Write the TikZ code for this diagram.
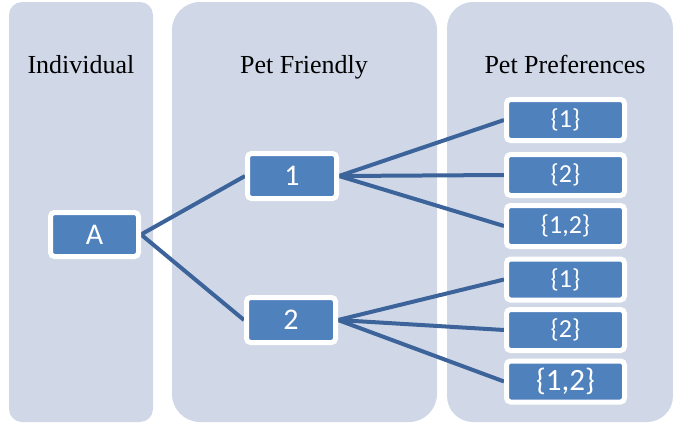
\documentclass[tikz,border=0pt]{standalone}
\usepackage{fontspec}
\setmainfont{Liberation Serif}
\newfontfamily\titlefont{Liberation Serif}
\newfontfamily\boxfont{Carlito}
\pgfdeclarelayer{panels}
\pgfdeclarelayer{lines}
\pgfsetlayers{panels,lines,main}
\definecolor{panelc}{RGB}{208,216,232}
\definecolor{boxc}{RGB}{79,129,189}
\definecolor{linec}{RGB}{60,100,155}
\tikzset{
  panel/.style={fill=panelc, draw=none},
  title/.style={anchor=base, font=\titlefont\fontsize{26}{30}\selectfont, text=black, inner sep=0pt},
  bigbox/.style={fill=boxc, draw=white, line width=5pt, rounded corners=4pt,
    minimum width=89pt, minimum height=45pt, inner sep=0pt, text=white,
    font=\boxfont\fontsize{30}{32}\selectfont},
  setbox/.style={fill=boxc, draw=white, line width=5pt, rounded corners=4pt,
    minimum width=118pt, minimum height=41pt, inner sep=0pt, text=white,
    font=\boxfont\fontsize{26}{28}\selectfont},
  conn/.style={draw=linec, line width=4pt}
}
\begin{document}
\begin{tikzpicture}[x=1pt,y=-1pt]
\useasboundingbox (0,0) rectangle (673,424);
\begin{pgfonlayer}{panels}
  \fill[panel, rounded corners=13pt] (9,2) rectangle (153,422);
  \fill[panel, rounded corners=28pt] (172,2) rectangle (437,422);
  \fill[panel, rounded corners=26pt] (447,2) rectangle (673,422);
\end{pgfonlayer}
\node[title] (t1) at (81,73) {Individual};
\node[title] (t2) at (304,73) {Pet Friendly};
\node[title] (t3) at (565,73) {Pet Preferences};

\node[bigbox, minimum width=88pt, minimum height=44pt] (A) at (94.5,234.5) {A};
\node[bigbox] (n1) at (292,176) {1};
\node[bigbox] (n2) at (291,320) {2};

\node[setbox] (p1) at (565.5,120) {\{1\}};
\node[setbox] (p2) at (565.5,175) {\{2\}};
\node[setbox] (p3) at (565.5,226) {\{1,2\}};
\node[setbox] (q1) at (565.5,279.5) {\{1\}};
\node[setbox] (q2) at (565.5,330) {\{2\}};
\node[setbox, font=\boxfont\fontsize{31}{33}\selectfont] (q3) at (565.5,381.5) {\{1,2\}};

\begin{pgfonlayer}{lines}
  \draw[conn] (A.east) -- (n1.west);
  \draw[conn] (A.east) -- (n2.west);
  \draw[conn] (n1.east) -- (p1.west);
  \draw[conn] (n1.east) -- (p2.west);
  \draw[conn] (n1.east) -- (p3.west);
  \draw[conn] (n2.east) -- (q1.west);
  \draw[conn] (n2.east) -- (q2.west);
  \draw[conn] (n2.east) -- (q3.west);
\end{pgfonlayer}
\end{tikzpicture}
\end{document}
